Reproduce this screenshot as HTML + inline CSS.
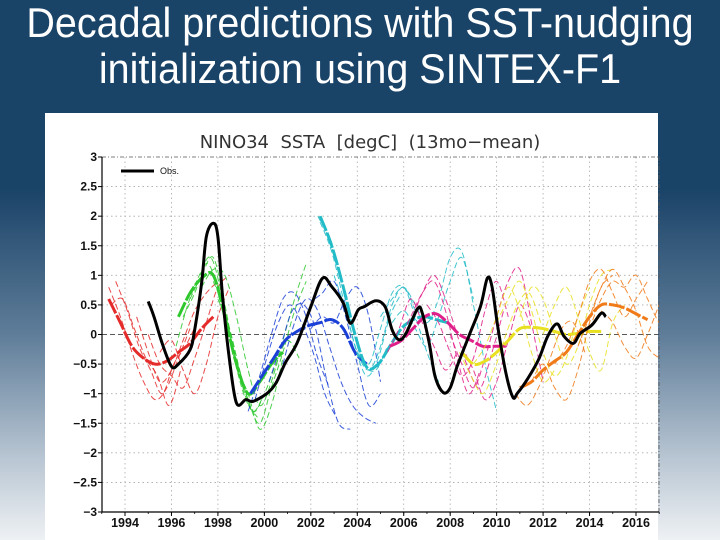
<!DOCTYPE html>
<html><head><meta charset="utf-8"><style>
html,body{margin:0;padding:0}
body{width:720px;height:540px;overflow:hidden;background:linear-gradient(180deg,#1a4368 0%,#1a4368 35%,#5f7d99 62%,#b9c6d3 85%,#eef1f4 100%);position:relative;font-family:"Liberation Sans",sans-serif}
#title{position:absolute;left:0;top:0;width:720px;text-align:center;color:#fff;font-size:42px;line-height:46px;padding-top:0px}
#title div{transform:scaleX(0.94);transform-origin:center;white-space:nowrap}
#panel{position:absolute;left:45px;top:113px;width:613px;height:427px;background:#fff}
svg{position:absolute;left:0;top:0}
</style></head><body>
<div id="title"><div>Decadal predictions with SST-nudging</div><div>initialization using SINTEX-F1</div></div>
<div id="panel"></div>
<svg id="chart" width="720" height="540"></svg>
<script>
const yTicks=[3,2.5,2,1.5,1,0.5,0,-0.5,-1,-1.5,-2,-2.5,-3];
const xTicks=[1994,1996,1998,2000,2002,2004,2006,2008,2010,2012,2014,2016];
const obsYears=[1995.0,1995.25,1995.6,1996,1996.3,1996.8,1997,1997.3,1997.5,1997.8,1998,1998.2,1998.5,1998.8,1999.2,1999.5,2000.1,2000.5,2000.9,2001.4,2002,2002.5,2002.9,2003.4,2003.7,2004.05,2004.3,2004.8,2005.2,2005.5,2005.8,2006.1,2006.6,2006.8,2007.1,2007.35,2007.7,2008,2008.3,2008.8,2009.3,2009.6,2009.8,2010.05,2010.4,2010.7,2010.9,2011.3,2011.8,2012.2,2012.6,2012.9,2013.3,2013.6,2014.1,2014.5,2014.7];
const obsValues=[0.56,0.3,-0.15,-0.54,-0.5,-0.26,0.08,0.87,1.65,1.88,1.65,0.64,-0.43,-1.16,-1.1,-1.13,-1.0,-0.82,-0.48,-0.15,0.47,0.95,0.81,0.53,0.19,0.42,0.47,0.57,0.47,0.08,-0.09,0.02,0.44,0.36,-0.15,-0.71,-0.98,-0.9,-0.54,-0.03,0.47,0.95,0.81,0.13,-0.65,-1.06,-0.99,-0.77,-0.43,-0.03,0.18,-0.03,-0.15,0.02,0.16,0.36,0.3];
const groupNames=["red","green","blue","cyan","magenta","yellow","orange"];
const groupColors=["#e52a2a","#2ec82e","#1a3fd6","#22bcc8","#e0208a","#e8e020","#f07a18"];
const memberStarts=[
[1993.3,1993.4,1993.6,1994.5,1995.0,1995.5],
[1996.2,1996.5,1996.8,1997.3,1997.8,1998.0],
[1999.3,1999.6,2000.2,2000.8,2001.5,2002.0],
[2002.3,2002.4,2003.0,2004.0,2005.0,2005.5],
[2005.3,2005.8,2006.3,2007.0,2008.0,2008.5],
[2008.4,2009.0,2010.0,2011.0,2012.0],
[2010.8,2011.5,2012.5,2013.5,2014.0,2014.5]];
const memberValues=[
[[0.8,0.3,-0.3,-0.8,-1.1,-0.9,-0.4,0.1],[0.5,0.6,0.1,-0.4,-0.7,-1.2,-0.6],[0.9,0.4,-0.2,-0.6,-1.0,-0.5,-0.2,0.2],[0.3,-0.3,-0.8,-0.6,-0.1,0.4,0.7,0.9],[0.0,-0.5,-0.7,-0.9,-0.4,0.2,0.8,1.0],[-0.3,-0.1,-0.6,-1.0,-0.5,0.3,0.8]],
[[-0.2,0.5,1.0,1.3,0.6,-0.4,-1.1,-1.4],[0.3,0.7,1.2,0.8,0.0,-0.8,-1.3,-1.0],[0.6,1.0,1.3,0.5,-0.5,-1.0,-1.6,-1.2,-0.4],[0.8,1.1,1.0,0.3,-0.6,-1.2,-0.8,-0.1,0.6,1.2],[0.9,0.4,-0.4,-1.1,-1.5,-0.9,-0.3,0.4,0.9],[0.6,0.1,-0.7,-1.3,-1.0,-0.5,-0.1,-0.4]],
[[-1.3,-0.7,0.0,0.6,0.7,0.3,-0.4,-0.9],[-1.1,-0.4,0.2,0.5,0.2,-0.3,-1.0,-1.4],[-0.8,-0.2,0.4,0.5,0.1,-0.8,-1.5,-1.6],[-0.5,0.2,0.6,0.4,-0.2,-0.8,-1.2,-1.4,-1.5],[-0.1,0.5,0.7,0.9,0.3,-0.5,-1.2,-1.0],[0.1,0.3,0.2,0.6,0.8,0.3,-0.8]],
[[2.0,1.6,0.9,0.1,-0.5,-0.6,-0.2],[1.9,1.4,0.6,-0.2,-0.7,-0.4,0.3,0.7],[1.0,0.4,-0.3,-0.6,-0.2,0.5,0.8,0.4],[-0.3,-0.5,0.1,0.7,0.8,0.3,-0.3,-0.8],[0.3,0.6,0.8,0.5,0.2,0.6,1.3,1.4,0.5,-0.5,-1.3],[0.2,0.4,0.1,-0.2,0.3,0.9,1.3,0.6]],
[[-0.3,0.1,0.6,0.2,-0.2,-0.6,-0.3],[-0.1,0.3,0.7,0.9,0.4,-0.4,-1.0,-0.6],[0.2,0.7,1.0,0.6,0.0,-0.6,-0.9,-0.3,0.4],[0.5,0.2,-0.3,-0.7,-0.4,0.4,0.9,0.3],[0.0,-0.5,-0.9,-0.4,0.3,0.9,1.1,0.2,-0.8],[-0.2,-0.6,-1.1,-0.8,-0.1,0.5,0.1]],
[[-0.3,-0.7,-1.0,-0.6,0.0,0.5,0.7,0.2],[-0.5,-0.2,0.3,0.8,0.4,-0.3,-0.8,-0.6],[0.2,0.6,0.9,0.4,-0.3,-0.7,-0.4,0.3,0.8],[0.3,0.8,0.6,0.0,-0.5,-0.2,0.5,1.0,1.1],[0.0,0.5,0.8,0.3,-0.3,-0.6,0.2,0.5]],
[[-1.0,-1.2,-0.9,-0.4,0.1,0.2,-0.3],[-0.8,-0.5,-0.9,-1.1,-0.6,0.2,0.8,1.0],[-0.5,-0.2,0.3,0.9,1.1,0.7,0.3,0.6,0.9],[-0.2,0.3,0.8,1.1,0.8,0.4,-0.2,-0.4],[0.1,0.6,0.9,0.8,1.0,0.6,0.2,0.1,0.6],[0.4,0.2,-0.2,-0.4,0.0,0.5,0.9,1.05]]];
const meanStarts=[1993.3,1996.3,1999.4,2002.4,2005.4,2008.5,2011.0];
const meanValues=[
[0.6,0.2,-0.2,-0.4,-0.5,-0.45,-0.3,-0.15,0.1,0.3],
[0.3,0.7,0.95,1.0,0.3,-0.5,-1.0,-0.8,-0.5,-0.3],
[-1.0,-0.7,-0.4,-0.1,0.05,0.15,0.2,0.25,0.1,-0.3,-0.5],
[2.0,1.5,0.8,0.0,-0.55,-0.5,-0.2,0.1,0.25,0.3,0.25,0.2],
[-0.2,-0.1,0.1,0.3,0.35,0.2,0.0,-0.1,-0.2,-0.2,-0.2],
[-0.3,-0.5,-0.45,-0.3,-0.1,0.1,0.12,0.1,0.05,0.0,0.02,0.05,0.05],
[-0.9,-0.8,-0.6,-0.45,-0.3,0.0,0.3,0.5,0.5,0.45,0.35,0.25]];
const stepYears=0.5;

const NS="http://www.w3.org/2000/svg";
const svg=document.getElementById('chart');
const X0=102,X1=659,Y0=157,Y1=512;
function xs(yr){return 125+(yr-1994)*(636-125)/22;}
function ys(v){return (Y0+Y1)/2-v*(Y1-Y0)/6;}
function mk(tag,attrs,parent){const e=document.createElementNS(NS,tag);for(const k in attrs)e.setAttribute(k,attrs[k]);(parent||svg).appendChild(e);return e;}
function smooth(pts){let d="M"+pts[0][0].toFixed(1)+","+pts[0][1].toFixed(1);for(let i=0;i<pts.length-1;i++){const p0=pts[i-1]||pts[i],p1=pts[i],p2=pts[i+1],p3=pts[i+2]||p2;const c1=[p1[0]+(p2[0]-p0[0])/6,p1[1]+(p2[1]-p0[1])/6],c2=[p2[0]-(p3[0]-p1[0])/6,p2[1]-(p3[1]-p1[1])/6];d+="C"+c1[0].toFixed(1)+","+c1[1].toFixed(1)+" "+c2[0].toFixed(1)+","+c2[1].toFixed(1)+" "+p2[0].toFixed(1)+","+p2[1].toFixed(1);}return d;}

const defs=mk('defs',{});const cp=mk('clipPath',{id:'clip'},defs);mk('rect',{x:X0,y:Y0,width:X1-X0,height:Y1-Y0},cp);

const title=mk('text',{x:370,y:148,'text-anchor':'middle','font-size':18,fill:'#333','font-family':'"DejaVu Sans",sans-serif'});
title.textContent="NINO34  SSTA  [degC]  (13mo\u2212mean)";


title.style.whiteSpace='pre';

yTicks.forEach(v=>{const y=ys(v);
 if(v!==3&&v!==-3&&v!==0){const g=mk('line',{x1:X0,x2:X1,y1:y,y2:y,stroke:'#aaa','stroke-width':0.8,'stroke-dasharray':'1.5,3'});}
 mk('line',{x1:X0-4,x2:X0,y1:y,y2:y,stroke:'#000','stroke-width':1});
 const t=mk('text',{x:X0-5,y:y+4,'text-anchor':'end','font-size':12,'font-weight':'bold',fill:'#111'});
 t.textContent=v<0?'\u2212'+Math.abs(v):String(v);
 
 
});
xTicks.forEach(yr=>{const x=xs(yr);
 const g=mk('line',{x1:x,x2:x,y1:Y0,y2:Y1,stroke:'#aaa','stroke-width':0.8,'stroke-dasharray':'1.5,3'});
 
 
 mk('line',{x1:x,x2:x,y1:Y1,y2:Y1+4,stroke:'#000','stroke-width':1});
 const t=mk('text',{x:x,y:527,'text-anchor':'middle','font-size':12.5,'font-weight':'bold',fill:'#111'});
 t.textContent=String(yr);
 
 
});
for(let yr=1993;yr<=2017;yr++){const x=xs(yr);mk('line',{x1:x,x2:x,y1:Y1,y2:Y1+2,stroke:'#000','stroke-width':0.8});}
const zl=mk('line',{x1:X0,x2:X1,y1:ys(0),y2:ys(0),stroke:'#222','stroke-width':0.8,'stroke-dasharray':'5,3'});


mk('line',{x1:X0,x2:X1,y1:Y0,y2:Y0,stroke:'#555','stroke-width':0.8,'stroke-dasharray':'4,2,1,2'});
mk('line',{x1:X1,x2:X1,y1:Y0,y2:Y1,stroke:'#555','stroke-width':0.8,'stroke-dasharray':'4,2,1,2'});
const ax=mk('line',{x1:X0,x2:X0,y1:Y0,y2:Y1,stroke:'#000','stroke-width':1.2});


const bx=mk('line',{x1:X0,x2:X1,y1:Y1,y2:Y1,stroke:'#000','stroke-width':1.2});



const plot=mk('g',{'clip-path':'url(#clip)'});
groupNames.forEach((name,gi)=>{
 memberValues[gi].forEach((vals,mi)=>{
  const pts=vals.map((v,k)=>[xs(memberStarts[gi][mi]+k*stepYears),ys(v)]);
  const p=mk('path',{d:smooth(pts),fill:'none',stroke:groupColors[gi],'stroke-width':1,'stroke-dasharray':'6,3',opacity:0.85},plot);
  
  
 });
 const pts=meanValues[gi].map((v,k)=>[xs(meanStarts[gi]+k*stepYears),ys(v)]);
 const p=mk('path',{d:smooth(pts),fill:'none',stroke:groupColors[gi],'stroke-width':3,'stroke-dasharray':'16,2'},plot);
 
 
});
const opts=obsYears.map((yr,i)=>[xs(yr),ys(obsValues[i])]);
const obs=mk('path',{d:smooth(opts),fill:'none',stroke:'#000','stroke-width':3},plot);



const lg=mk('g',{});


mk('line',{x1:121,x2:154,y1:171,y2:171,stroke:'#000','stroke-width':3},lg);
const lt=mk('text',{x:160,y:174,'font-size':9,fill:'#111'},lg);lt.textContent='Obs.';
</script>
</body></html>
